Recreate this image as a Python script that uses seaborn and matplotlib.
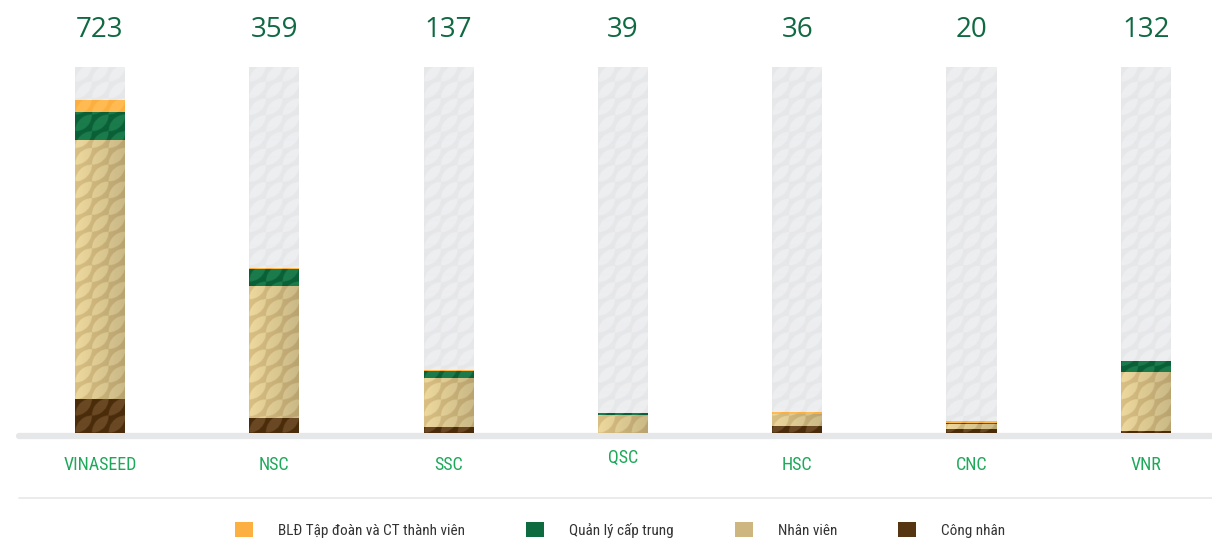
import matplotlib
matplotlib.use("Agg")
import matplotlib.pyplot as plt
import seaborn as sns
import numpy as np
import pandas as pd
from matplotlib import font_manager
from matplotlib.patches import Patch
from matplotlib.lines import Line2D
import matplotlib.colors as mcolors
import matplotlib.transforms as mtrans

# ---------------- data ----------------
categories = ["VINASEED", "NSC", "SSC", "QSC", "HSC", "CNC", "VNR"]
totals = [723, 359, 137, 39, 36, 20, 132]
cong_nhan = [74, 33, 13, 0, 16, 9, 6]
nhan_vien = [562, 286, 108, 40, 26, 12, 127]
quan_ly = [61, 37, 14, 3, 0, 2, 23]
bld = [26, 3, 2, 2, 4, 3, 2]
scale_max = [795] * 7
series_names = ["BLĐ Tập đoàn và CT thành viên", "Quản lý cấp trung", "Nhân viên", "Công nhân"]

# ---------------- style ----------------
sns.set_theme(style="white")
avail = {f.name for f in font_manager.fontManager.ttflist}
cond = None
for f in ["Liberation Sans Narrow", "DejaVu Sans Condensed", "Roboto Condensed", "Open Sans Condensed"]:
    if f in avail:
        cond = f
        break
if cond is None:
    cond = "Roboto"
plt.rcParams["font.family"] = [cond, "DejaVu Sans"]

C_GREY = "#E7E8EA"
C_ORANGE = "#FCB042"
C_GREEN = "#0D6B3F"
C_TAN = "#CDB680"
C_BROWN = "#553512"
C_NUM = "#0F6A42"
C_LAB = "#1EA85A"

fig = plt.figure(figsize=(12.12, 5.40), dpi=100)
ax = fig.add_axes([0, (540 - 433.3) / 540, 1, (433.3 - 67) / 540])

df = pd.DataFrame({
    "cat": categories,
    "bg": scale_max,
    "l4": np.array(cong_nhan) + np.array(nhan_vien) + np.array(quan_ly) + np.array(bld),
    "l3": np.array(cong_nhan) + np.array(nhan_vien) + np.array(quan_ly),
    "l2": np.array(cong_nhan) + np.array(nhan_vien),
    "l1": np.array(cong_nhan),
})

W = 50 / 174.3
layers = [("bg", C_GREY), ("l4", C_ORANGE), ("l3", C_GREEN), ("l2", C_TAN), ("l1", C_BROWN)]
for col, c in layers:
    sns.barplot(data=df, x="cat", y=col, color=c, width=W, saturation=1, ax=ax, linewidth=0)

XL = (-100 / 174.3, (1212 - 100) / 174.3)
YL = (0, 795)
ax.set_xlim(*XL)
ax.set_ylim(*YL)

# ---- leaf texture on the bars ----
def rgb(h):
    return np.array(mcolors.to_rgb(h))

tex = {
    "bg": (rgb("#E6E7E9"), rgb("#EDEEF0"), 0.0),
    "l4": (rgb("#FCAF40"), rgb("#FFBB52"), 0.0),
    "l3": (rgb("#0A6037"), rgb("#1B7B4B"), 0.0),
    "l2": (rgb("#C9B179"), rgb("#DCC992"), 0.10),
    "l1": (rgb("#4A2C0B"), rgb("#6A4824"), 0.0),
}
px_per_y = (433.3 - 67) / 795.0

def make_tex(hpx, wpx, cA, cB, grad, s=2):
    H = max(int(round(hpx * s)), 1)
    Wd = int(round(wpx * s))
    yy, xx = np.mgrid[0:H, 0:Wd]
    tile = 16.7 * s
    u = (xx % tile) / tile
    v = (yy % tile) / tile
    leaf = ((u - 0.0) ** 2 + (v - 1.0) ** 2 < 1.0) & ((u - 1.0) ** 2 + (v - 0.0) ** 2 < 1.0)
    img = np.where(leaf[..., None], cB, cA).astype(float)
    if grad:
        g = (xx / max(Wd - 1, 1))[..., None]
        img = img * (1 + grad * (0.5 - g) * 1.6)
    return np.clip(img, 0, 1)

npatch = len(categories)
patches = list(ax.patches)
for li, (col, c) in enumerate(layers):
    for j in range(npatch):
        p = patches[li * npatch + j]
        p.set_zorder(1 + li)
        h = p.get_height()
        if h <= 0:
            continue
        x0 = p.get_x()
        w = p.get_width()
        cA, cB, grad = tex[col]
        img = make_tex(h * px_per_y, 50, cA, cB, grad)
        im = ax.imshow(img, extent=[x0, x0 + w, 0, h], origin="lower", aspect="auto",
                       interpolation="bilinear", zorder=1.5 + li)
        im.set_clip_path(p)

ax.set_xlim(*XL)
ax.set_ylim(*YL)
ax.set_xlabel("")
ax.set_ylabel("")
ax.set_xticks([])
ax.set_yticks([])
for s in ax.spines.values():
    s.set_visible(False)
ax.patch.set_alpha(0)

# baseline band
ax.axhline(-3 * 2.17, xmin=19 / 1212, xmax=1, color="#E6E7E8", lw=4.5, clip_on=False, zorder=0.5)
# separator line
fig.add_artist(Line2D([19 / 1212, 1], [(540 - 498) / 540] * 2, color="#E9E9E9", lw=1.3))

# totals above
tr = mtrans.blended_transform_factory(ax.transData, fig.transFigure)
for i, t in enumerate(totals):
    ax.text(i, (540 - 30) / 540, str(t), transform=tr, ha="center", va="center",
            fontsize=20, color=C_NUM, family=["Open Sans", "DejaVu Sans"])

# category labels
for i, c in enumerate(categories):
    ypix = 458 if c == "QSC" else 465
    ax.text(i, (540 - ypix) / 540, c, transform=tr, ha="center", va="center",
            fontsize=13, color=C_LAB)

# legend
handles = [Patch(facecolor=c, edgecolor="none") for c in [C_ORANGE, C_GREEN, C_TAN, C_BROWN]]
fig.legend(handles, series_names, loc="center", bbox_to_anchor=(620 / 1212, 10 / 540),
           ncol=4, frameon=False, fontsize=11, handlelength=1.18, handleheight=1.05,
           handletextpad=1.63, columnspacing=4.0, labelcolor="#333333")

fig.savefig("out.png", dpi=100)
